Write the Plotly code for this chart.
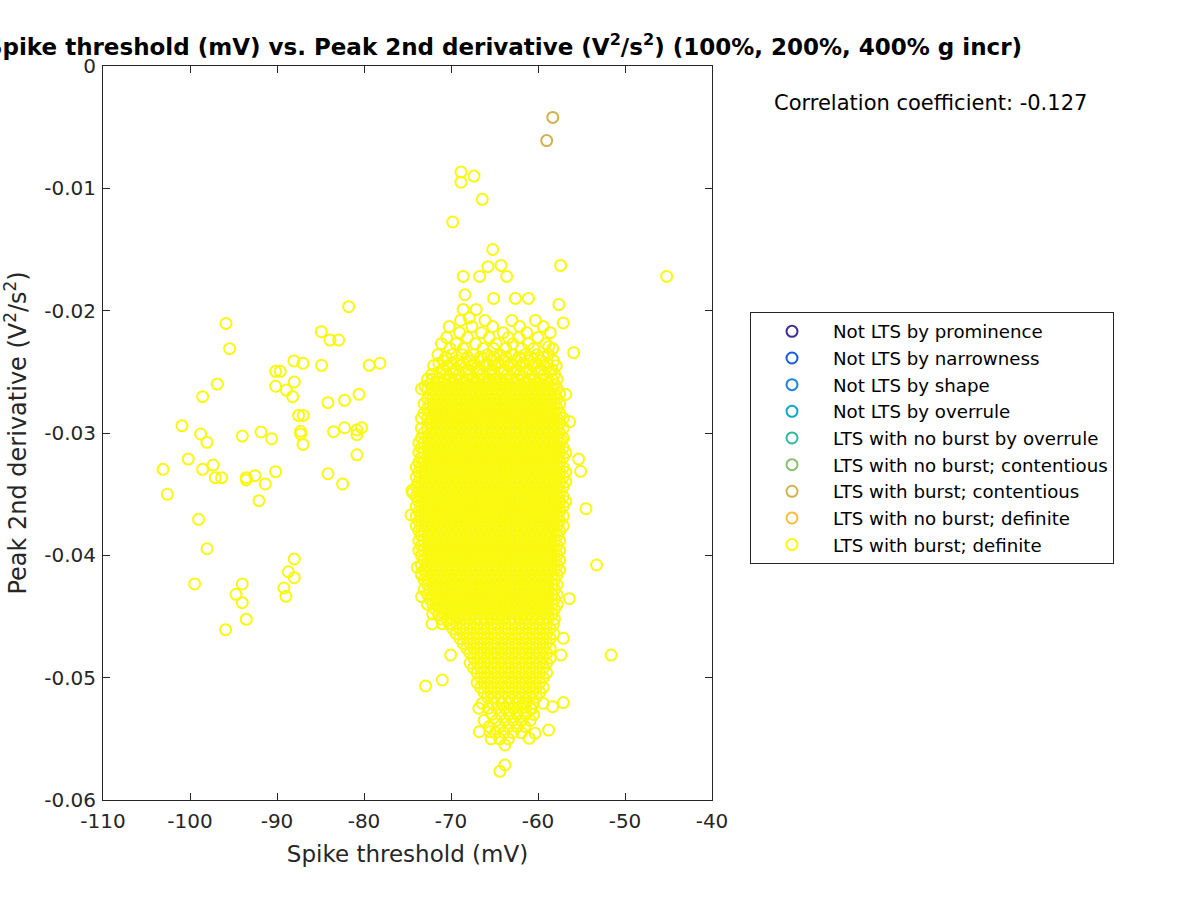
import plotly.graph_objects as go

# ---------------- data ----------------
categories = ["Not LTS by prominence", "Not LTS by narrowness", "Not LTS by shape",
              "Not LTS by overrule", "LTS with no burst by overrule",
              "LTS with no burst; contentious", "LTS with burst; contentious",
              "LTS with no burst; definite", "LTS with burst; definite"]
cat_colors = ["#3F2C9E", "#1259E0", "#1F83D9", "#12A8C8", "#30B69E",
              "#88BF72", "#D2B24F", "#FCBB38", "#F9F80E"]

x_ticks = [-110, -100, -90, -80, -70, -60, -50, -40]
x_tick_labels = ["-110", "-100", "-90", "-80", "-70", "-60", "-50", "-40"]
y_ticks = [-0.06, -0.05, -0.04, -0.03, -0.02, -0.01, 0]
y_tick_labels = ["-0.06", "-0.05", "-0.04", "-0.03", "-0.02", "-0.01", "0"]

corr_text = "Correlation coefficient: -0.127"

# LTS with burst; contentious
contentious_x = [-58.3, -59.0]
contentious_y = [-0.0042, -0.0061]

# LTS with burst; definite -- sparse left group
left_x = [-81.76, -95.86, -84.91, -83.91, -82.91, -95.44, -88.05, -87.01, -84.87, -79.4,
          -78.16, -90.16, -89.62, -96.86, -90.16, -88.01, -88.93, -88.2, -98.55, -80.57,
          -84.14, -82.23, -87.52, -86.98, -100.92, -98.78, -93.99, -91.84, -90.61, -87.29,
          -87.29, -87.01, -83.5, -82.23, -80.81, -80.28, -80.81, -80.81, -98.05, -100.2,
          -103.1, -98.55, -97.33, -97.1, -96.37, -93.53, -93.53, -92.53, -91.35, -90.16,
          -84.14, -82.46, -102.6, -92.07, -99.01, -98.05, -88.01, -88.7, -88.01, -99.46,
          -93.99, -89.2, -88.97, -94.71, -93.99, -93.53, -95.91]
left_y = [-0.01967, -0.02104, -0.02172, -0.0224, -0.0224, -0.02311, -0.02411, -0.0243, -0.02447, -0.02447,
          -0.0243, -0.02496, -0.02496, -0.026, -0.02618, -0.02583, -0.02649, -0.02703, -0.02703, -0.02684,
          -0.02752, -0.02733, -0.02856, -0.02856, -0.0294, -0.03008, -0.03025, -0.02992, -0.03047, -0.02986,
          -0.03008, -0.03093, -0.02989, -0.02957, -0.02976, -0.02957, -0.03014, -0.03178, -0.03076, -0.03213,
          -0.03297, -0.03297, -0.03262, -0.03365, -0.03365, -0.03365, -0.03384, -0.03349, -0.03417, -0.03316,
          -0.03333, -0.03417, -0.03501, -0.03553, -0.03706, -0.03946, -0.0403, -0.04134, -0.04183, -0.04234,
          -0.04234, -0.04267, -0.04335, -0.04319, -0.04387, -0.04523, -0.04608]

# upper tail of the main cluster
top_x = [-68.85, -68.85, -67.36, -66.4, -69.8, -65.2, -65.75, -64.25, -68.6, -66.7,
         -63.6, -57.4, -68.4, -65.1, -62.6, -61.1, -57.6, -57.1, -68.6, -67.1, -67.9, -45.2]
top_y = [-0.00867, -0.0095, -0.0090, -0.0109, -0.01275, -0.0150, -0.0164, -0.0163, -0.0172, -0.0172,
         -0.0172, -0.0163, -0.0187, -0.0190, -0.0190, -0.0190, -0.0195, -0.0210, -0.0199, -0.0199, -0.0206, -0.0172]

# right edge of the main cluster
right_x = [-55.9, -58.77, -56.83, -56.37, -57.28, -55.33, -55.1, -54.48, -53.27, -56.4,
           -51.6, -57.09, -57.36, -58.31, -57.56]
right_y = [-0.02343, -0.02294, -0.02684, -0.02908, -0.0306, -0.03213, -0.03313, -0.03619, -0.04079, -0.04354,
           -0.04815, -0.04678, -0.04815, -0.03774, -0.0357]

# lower tail / left edge of the main cluster
edge_x = [-64.37, -63.8, -63.8, -66.75, -65.52, -61.0, -60.34, -58.78, -60.73, -58.32,
          -57.09, -72.92, -71.0, -70.04, -72.18, -73.38, -73.87, -72.99, -74.4, -74.5,
          -74.6, -73.4, -71.65, -71.4, -70.0, -69.9]
edge_y = [-0.05766, -0.05714, -0.0555, -0.05442, -0.05442, -0.05496, -0.05455, -0.05428, -0.05256, -0.05237,
          -0.05204, -0.05068, -0.05019, -0.04815, -0.04561, -0.04338, -0.04098, -0.0262, -0.03488, -0.0347,
          -0.0367, -0.04147, -0.0436, -0.0449, -0.0456, -0.0447]

# main cluster, estimated row by row: (y, x values)
core_rows = [
    (-0.0208, [-68.9, -66.1, -63.0, -60.3]),
    (-0.0213, [-70.2, -67.6, -65.2, -62.1, -59.4]),
    (-0.0218, [-69.0, -66.5, -64.0, -61.3, -58.6]),
    (-0.0222, [-70.5, -68.1, -65.6, -63.4, -62.2, -60.0]),
    (-0.0227, [-71.1, -69.4, -67.2, -64.8, -62.9, -61.1, -59.1]),
    (-0.0231, [-70.1, -68.6, -66.3, -65.1, -63.7, -61.9, -60.5, -58.3]),
    (-0.0236, [-71.5, -69.9, -68.7, -67.4, -65.8, -64.4, -63.0, -61.5, -60.1, -58.8]),
    (-0.0238, [-70.6, -68.1, -66.6, -65.1, -63.7, -62.2, -60.8, -59.4]),
    (-0.0241, [-70.8, -69.3, -68.0, -66.7, -65.2, -63.8, -62.4, -61.0, -59.6, -58.2]),
    (-0.0243, [-71.4, -69.9, -68.6, -67.3, -65.9, -64.5, -63.1, -61.7, -60.3, -58.9]),
    (-0.0245, [-72.0, -70.5, -69.0, -67.6, -66.1, -64.9, -63.4, -62.0, -60.6, -59.3, -57.9]),
    (-0.0248, [-70.9, -69.4, -68.0, -66.7, -65.3, -63.9, -62.5, -61.1, -59.7, -58.4]),
    (-0.0250, [-71.3, -69.8, -68.4, -67.1, -65.6, -64.2, -62.8, -61.4, -60.0, -58.7]),
    (-0.0252, [-72.2, -70.6, -69.1, -67.8, -66.4, -65.0, -63.5, -62.1, -60.7, -59.3, -58.1]),
    (-0.0256, [-72.7, -72.1, -71.4, -70.8, -70.1, -69.5, -68.8, -68.2, -67.5, -66.9, -66.2, -65.6, -64.9, -64.3, -63.6, -63.0, -62.3, -61.7, -61.0, -60.4, -59.7, -59.1, -58.4, -57.8]),
    (-0.0260, [-72.4, -71.8, -71.1, -70.5, -69.8, -69.2, -68.5, -67.9, -67.2, -66.6, -65.9, -65.3, -64.6, -64.0, -63.3, -62.7, -62.0, -61.4, -60.7, -60.1, -59.4, -58.8, -58.1]),
    (-0.0264, [-73.4, -72.7, -72.1, -71.4, -70.8, -70.1, -69.5, -68.8, -68.2, -67.5, -66.9, -66.2, -65.6, -64.9, -64.3, -63.6, -63.0, -62.3, -61.7, -61.0, -60.4, -59.7, -59.1, -58.4, -57.8]),
    (-0.0268, [-72.4, -71.8, -71.1, -70.5, -69.8, -69.2, -68.5, -67.9, -67.2, -66.6, -65.9, -65.3, -64.6, -64.0, -63.3, -62.7, -62.0, -61.4, -60.7, -60.1, -59.4, -58.8, -58.1, -57.5]),
    (-0.0272, [-72.7, -72.1, -71.4, -70.8, -70.1, -69.5, -68.8, -68.2, -67.5, -66.9, -66.2, -65.6, -64.9, -64.3, -63.6, -63.0, -62.3, -61.7, -61.0, -60.4, -59.7, -59.1, -58.4, -57.8]),
    (-0.0276, [-73.1, -72.4, -71.8, -71.1, -70.5, -69.8, -69.2, -68.5, -67.9, -67.2, -66.6, -65.9, -65.3, -64.6, -64.0, -63.3, -62.7, -62.0, -61.4, -60.7, -60.1, -59.4, -58.8, -58.1, -57.5]),
    (-0.0280, [-72.7, -72.1, -71.4, -70.8, -70.1, -69.5, -68.8, -68.2, -67.5, -66.9, -66.2, -65.6, -64.9, -64.3, -63.6, -63.0, -62.3, -61.7, -61.0, -60.4, -59.7, -59.1, -58.4, -57.8]),
    (-0.0284, [-73.1, -72.4, -71.8, -71.1, -70.5, -69.8, -69.2, -68.5, -67.9, -67.2, -66.6, -65.9, -65.3, -64.6, -64.0, -63.3, -62.7, -62.0, -61.4, -60.7, -60.1, -59.4, -58.8, -58.1, -57.5]),
    (-0.0288, [-73.4, -72.7, -72.1, -71.4, -70.8, -70.1, -69.5, -68.8, -68.2, -67.5, -66.9, -66.2, -65.6, -64.9, -64.3, -63.6, -63.0, -62.3, -61.7, -61.0, -60.4, -59.7, -59.1, -58.4, -57.8, -57.1]),
    (-0.0292, [-72.4, -71.8, -71.1, -70.5, -69.8, -69.2, -68.5, -67.9, -67.2, -66.6, -65.9, -65.3, -64.6, -64.0, -63.3, -62.7, -62.0, -61.4, -60.7, -60.1, -59.4, -58.8, -58.1, -57.5]),
    (-0.0296, [-73.4, -72.7, -72.1, -71.4, -70.8, -70.1, -69.5, -68.8, -68.2, -67.5, -66.9, -66.2, -65.6, -64.9, -64.3, -63.6, -63.0, -62.3, -61.7, -61.0, -60.4, -59.7, -59.1, -58.4, -57.8, -57.1]),
    (-0.0300, [-73.1, -72.4, -71.8, -71.1, -70.5, -69.8, -69.2, -68.5, -67.9, -67.2, -66.6, -65.9, -65.3, -64.6, -64.0, -63.3, -62.7, -62.0, -61.4, -60.7, -60.1, -59.4, -58.8, -58.1, -57.5]),
    (-0.0304, [-73.4, -72.7, -72.1, -71.4, -70.8, -70.1, -69.5, -68.8, -68.2, -67.5, -66.9, -66.2, -65.6, -64.9, -64.3, -63.6, -63.0, -62.3, -61.7, -61.0, -60.4, -59.7, -59.1, -58.4, -57.8, -57.1]),
    (-0.0308, [-73.7, -73.1, -72.4, -71.8, -71.1, -70.5, -69.8, -69.2, -68.5, -67.9, -67.2, -66.6, -65.9, -65.3, -64.6, -64.0, -63.3, -62.7, -62.0, -61.4, -60.7, -60.1, -59.4, -58.8, -58.1, -57.5]),
    (-0.0312, [-73.4, -72.7, -72.1, -71.4, -70.8, -70.1, -69.5, -68.8, -68.2, -67.5, -66.9, -66.2, -65.6, -64.9, -64.3, -63.6, -63.0, -62.3, -61.7, -61.0, -60.4, -59.7, -59.1, -58.4, -57.8, -57.1]),
    (-0.0316, [-73.7, -73.1, -72.4, -71.8, -71.1, -70.5, -69.8, -69.2, -68.5, -67.9, -67.2, -66.6, -65.9, -65.3, -64.6, -64.0, -63.3, -62.7, -62.0, -61.4, -60.7, -60.1, -59.4, -58.8, -58.1, -57.5, -56.8]),
    (-0.0320, [-73.4, -72.7, -72.1, -71.4, -70.8, -70.1, -69.5, -68.8, -68.2, -67.5, -66.9, -66.2, -65.6, -64.9, -64.3, -63.6, -63.0, -62.3, -61.7, -61.0, -60.4, -59.7, -59.1, -58.4, -57.8, -57.1]),
    (-0.0324, [-73.7, -73.1, -72.4, -71.8, -71.1, -70.5, -69.8, -69.2, -68.5, -67.9, -67.2, -66.6, -65.9, -65.3, -64.6, -64.0, -63.3, -62.7, -62.0, -61.4, -60.7, -60.1, -59.4, -58.8, -58.1, -57.5]),
    (-0.0328, [-74.0, -73.4, -72.7, -72.1, -71.4, -70.8, -70.1, -69.5, -68.8, -68.2, -67.5, -66.9, -66.2, -65.6, -64.9, -64.3, -63.6, -63.0, -62.3, -61.7, -61.0, -60.4, -59.7, -59.1, -58.4, -57.8, -57.1]),
    (-0.0332, [-73.7, -73.1, -72.4, -71.8, -71.1, -70.5, -69.8, -69.2, -68.5, -67.9, -67.2, -66.6, -65.9, -65.3, -64.6, -64.0, -63.3, -62.7, -62.0, -61.4, -60.7, -60.1, -59.4, -58.8, -58.1, -57.5, -56.8]),
    (-0.0336, [-74.0, -73.4, -72.7, -72.1, -71.4, -70.8, -70.1, -69.5, -68.8, -68.2, -67.5, -66.9, -66.2, -65.6, -64.9, -64.3, -63.6, -63.0, -62.3, -61.7, -61.0, -60.4, -59.7, -59.1, -58.4, -57.8, -57.1]),
    (-0.0340, [-73.7, -73.1, -72.4, -71.8, -71.1, -70.5, -69.8, -69.2, -68.5, -67.9, -67.2, -66.6, -65.9, -65.3, -64.6, -64.0, -63.3, -62.7, -62.0, -61.4, -60.7, -60.1, -59.4, -58.8, -58.1, -57.5, -56.8]),
    (-0.0344, [-74.0, -73.4, -72.7, -72.1, -71.4, -70.8, -70.1, -69.5, -68.8, -68.2, -67.5, -66.9, -66.2, -65.6, -64.9, -64.3, -63.6, -63.0, -62.3, -61.7, -61.0, -60.4, -59.7, -59.1, -58.4, -57.8, -57.1]),
    (-0.0348, [-73.7, -73.1, -72.4, -71.8, -71.1, -70.5, -69.8, -69.2, -68.5, -67.9, -67.2, -66.6, -65.9, -65.3, -64.6, -64.0, -63.3, -62.7, -62.0, -61.4, -60.7, -60.1, -59.4, -58.8, -58.1, -57.5]),
    (-0.0352, [-74.0, -73.4, -72.7, -72.1, -71.4, -70.8, -70.1, -69.5, -68.8, -68.2, -67.5, -66.9, -66.2, -65.6, -64.9, -64.3, -63.6, -63.0, -62.3, -61.7, -61.0, -60.4, -59.7, -59.1, -58.4, -57.8, -57.1]),
    (-0.0356, [-73.7, -73.1, -72.4, -71.8, -71.1, -70.5, -69.8, -69.2, -68.5, -67.9, -67.2, -66.6, -65.9, -65.3, -64.6, -64.0, -63.3, -62.7, -62.0, -61.4, -60.7, -60.1, -59.4, -58.8, -58.1, -57.5, -56.8]),
    (-0.0360, [-74.0, -73.4, -72.7, -72.1, -71.4, -70.8, -70.1, -69.5, -68.8, -68.2, -67.5, -66.9, -66.2, -65.6, -64.9, -64.3, -63.6, -63.0, -62.3, -61.7, -61.0, -60.4, -59.7, -59.1, -58.4, -57.8, -57.1]),
    (-0.0364, [-73.7, -73.1, -72.4, -71.8, -71.1, -70.5, -69.8, -69.2, -68.5, -67.9, -67.2, -66.6, -65.9, -65.3, -64.6, -64.0, -63.3, -62.7, -62.0, -61.4, -60.7, -60.1, -59.4, -58.8, -58.1, -57.5]),
    (-0.0368, [-74.0, -73.4, -72.7, -72.1, -71.4, -70.8, -70.1, -69.5, -68.8, -68.2, -67.5, -66.9, -66.2, -65.6, -64.9, -64.3, -63.6, -63.0, -62.3, -61.7, -61.0, -60.4, -59.7, -59.1, -58.4, -57.8, -57.1]),
    (-0.0372, [-73.7, -73.1, -72.4, -71.8, -71.1, -70.5, -69.8, -69.2, -68.5, -67.9, -67.2, -66.6, -65.9, -65.3, -64.6, -64.0, -63.3, -62.7, -62.0, -61.4, -60.7, -60.1, -59.4, -58.8, -58.1, -57.5]),
    (-0.0376, [-74.0, -73.4, -72.7, -72.1, -71.4, -70.8, -70.1, -69.5, -68.8, -68.2, -67.5, -66.9, -66.2, -65.6, -64.9, -64.3, -63.6, -63.0, -62.3, -61.7, -61.0, -60.4, -59.7, -59.1, -58.4, -57.8, -57.1]),
    (-0.0380, [-73.7, -73.1, -72.4, -71.8, -71.1, -70.5, -69.8, -69.2, -68.5, -67.9, -67.2, -66.6, -65.9, -65.3, -64.6, -64.0, -63.3, -62.7, -62.0, -61.4, -60.7, -60.1, -59.4, -58.8, -58.1, -57.5]),
    (-0.0384, [-73.4, -72.7, -72.1, -71.4, -70.8, -70.1, -69.5, -68.8, -68.2, -67.5, -66.9, -66.2, -65.6, -64.9, -64.3, -63.6, -63.0, -62.3, -61.7, -61.0, -60.4, -59.7, -59.1, -58.4, -57.8]),
    (-0.0388, [-73.7, -73.1, -72.4, -71.8, -71.1, -70.5, -69.8, -69.2, -68.5, -67.9, -67.2, -66.6, -65.9, -65.3, -64.6, -64.0, -63.3, -62.7, -62.0, -61.4, -60.7, -60.1, -59.4, -58.8, -58.1, -57.5]),
    (-0.0392, [-73.4, -72.7, -72.1, -71.4, -70.8, -70.1, -69.5, -68.8, -68.2, -67.5, -66.9, -66.2, -65.6, -64.9, -64.3, -63.6, -63.0, -62.3, -61.7, -61.0, -60.4, -59.7, -59.1, -58.4, -57.8]),
    (-0.0396, [-73.7, -73.1, -72.4, -71.8, -71.1, -70.5, -69.8, -69.2, -68.5, -67.9, -67.2, -66.6, -65.9, -65.3, -64.6, -64.0, -63.3, -62.7, -62.0, -61.4, -60.7, -60.1, -59.4, -58.8, -58.1, -57.5]),
    (-0.0400, [-73.4, -72.7, -72.1, -71.4, -70.8, -70.1, -69.5, -68.8, -68.2, -67.5, -66.9, -66.2, -65.6, -64.9, -64.3, -63.6, -63.0, -62.3, -61.7, -61.0, -60.4, -59.7, -59.1, -58.4, -57.8]),
    (-0.0404, [-73.1, -72.4, -71.8, -71.1, -70.5, -69.8, -69.2, -68.5, -67.9, -67.2, -66.6, -65.9, -65.3, -64.6, -64.0, -63.3, -62.7, -62.0, -61.4, -60.7, -60.1, -59.4, -58.8, -58.1, -57.5]),
    (-0.0408, [-73.4, -72.7, -72.1, -71.4, -70.8, -70.1, -69.5, -68.8, -68.2, -67.5, -66.9, -66.2, -65.6, -64.9, -64.3, -63.6, -63.0, -62.3, -61.7, -61.0, -60.4, -59.7, -59.1, -58.4, -57.8]),
    (-0.0412, [-73.1, -72.4, -71.8, -71.1, -70.5, -69.8, -69.2, -68.5, -67.9, -67.2, -66.6, -65.9, -65.3, -64.6, -64.0, -63.3, -62.7, -62.0, -61.4, -60.7, -60.1, -59.4, -58.8, -58.1, -57.5]),
    (-0.0416, [-73.4, -72.7, -72.1, -71.4, -70.8, -70.1, -69.5, -68.8, -68.2, -67.5, -66.9, -66.2, -65.6, -64.9, -64.3, -63.6, -63.0, -62.3, -61.7, -61.0, -60.4, -59.7, -59.1, -58.4, -57.8]),
    (-0.0420, [-73.1, -72.4, -71.8, -71.1, -70.5, -69.8, -69.2, -68.5, -67.9, -67.2, -66.6, -65.9, -65.3, -64.6, -64.0, -63.3, -62.7, -62.0, -61.4, -60.7, -60.1, -59.4, -58.8, -58.1]),
    (-0.0424, [-72.7, -72.1, -71.4, -70.8, -70.1, -69.5, -68.8, -68.2, -67.5, -66.9, -66.2, -65.6, -64.9, -64.3, -63.6, -63.0, -62.3, -61.7, -61.0, -60.4, -59.7, -59.1, -58.4, -57.8]),
    (-0.0428, [-73.1, -72.4, -71.8, -71.1, -70.5, -69.8, -69.2, -68.5, -67.9, -67.2, -66.6, -65.9, -65.3, -64.6, -64.0, -63.3, -62.7, -62.0, -61.4, -60.7, -60.1, -59.4, -58.8, -58.1]),
    (-0.0432, [-72.7, -72.1, -71.4, -70.8, -70.1, -69.5, -68.8, -68.2, -67.5, -66.9, -66.2, -65.6, -64.9, -64.3, -63.6, -63.0, -62.3, -61.7, -61.0, -60.4, -59.7, -59.1, -58.4, -57.8]),
    (-0.0436, [-72.4, -71.8, -71.1, -70.5, -69.8, -69.2, -68.5, -67.9, -67.2, -66.6, -65.9, -65.3, -64.6, -64.0, -63.3, -62.7, -62.0, -61.4, -60.7, -60.1, -59.4, -58.8, -58.1]),
    (-0.0440, [-72.7, -72.1, -71.4, -70.8, -70.1, -69.5, -68.8, -68.2, -67.5, -66.9, -66.2, -65.6, -64.9, -64.3, -63.6, -63.0, -62.3, -61.7, -61.0, -60.4, -59.7, -59.1, -58.4, -57.8]),
    (-0.0444, [-71.8, -71.1, -70.5, -69.8, -69.2, -68.5, -67.9, -67.2, -66.6, -65.9, -65.3, -64.6, -64.0, -63.3, -62.7, -62.0, -61.4, -60.7, -60.1, -59.4, -58.8, -58.1]),
    (-0.0448, [-72.1, -71.4, -70.8, -70.1, -69.5, -68.8, -68.2, -67.5, -66.9, -66.2, -65.6, -64.9, -64.3, -63.6, -63.0, -62.3, -61.7, -61.0, -60.4, -59.7, -59.1, -58.4]),
    (-0.0452, [-71.1, -70.5, -69.8, -69.2, -68.5, -67.9, -67.2, -66.6, -65.9, -65.3, -64.6, -64.0, -63.3, -62.7, -62.0, -61.4, -60.7, -60.1, -59.4, -58.8, -58.1]),
    (-0.0456, [-71.0, -70.2, -69.4, -68.6, -67.8, -67.0, -66.2, -65.4, -64.6, -63.8, -63.0, -62.2, -61.4, -60.6, -59.8, -59.0, -58.2]),
    (-0.0460, [-69.8, -69.0, -68.2, -67.4, -66.6, -65.8, -65.0, -64.2, -63.4, -62.6, -61.8, -61.0, -60.2, -59.4, -58.6]),
    (-0.0464, [-69.4, -68.6, -67.8, -67.0, -66.2, -65.4, -64.6, -63.8, -63.0, -62.2, -61.4, -60.6, -59.8, -59.0, -58.2]),
    (-0.0468, [-69.0, -68.2, -67.4, -66.6, -65.8, -65.0, -64.2, -63.4, -62.6, -61.8, -61.0, -60.2, -59.4, -58.6]),
    (-0.0472, [-68.6, -67.8, -67.0, -66.2, -65.4, -64.6, -63.8, -63.0, -62.2, -61.4, -60.6, -59.8, -59.0]),
    (-0.0476, [-68.2, -67.4, -66.6, -65.8, -65.0, -64.2, -63.4, -62.6, -61.8, -61.0, -60.2, -59.4, -58.6]),
    (-0.0480, [-67.8, -67.0, -66.2, -65.4, -64.6, -63.8, -63.0, -62.2, -61.4, -60.6, -59.8, -59.0]),
    (-0.0484, [-67.4, -66.6, -65.8, -65.0, -64.2, -63.4, -62.6, -61.8, -61.0, -60.2, -59.4, -58.6]),
    (-0.0488, [-67.8, -67.0, -66.2, -65.4, -64.6, -63.8, -63.0, -62.2, -61.4, -60.6, -59.8, -59.0]),
    (-0.0492, [-67.4, -66.6, -65.8, -65.0, -64.2, -63.4, -62.6, -61.8, -61.0, -60.2, -59.4]),
    (-0.0496, [-67.0, -66.2, -65.4, -64.6, -63.8, -63.0, -62.2, -61.4, -60.6, -59.8, -59.0]),
    (-0.0500, [-66.6, -65.8, -65.0, -64.2, -63.4, -62.6, -61.8, -61.0, -60.2, -59.4]),
    (-0.0504, [-67.0, -66.2, -65.4, -64.6, -63.8, -63.0, -62.2, -61.4, -60.6, -59.8]),
    (-0.0508, [-66.6, -65.8, -65.0, -64.2, -63.4, -62.6, -61.8, -61.0, -60.2, -59.4]),
    (-0.0512, [-66.2, -65.4, -64.6, -63.8, -63.0, -62.2, -61.4, -60.6, -59.8]),
    (-0.0516, [-65.8, -65.0, -64.2, -63.4, -62.6, -61.8, -61.0, -60.2]),
    (-0.0521, [-66.4, -65.2, -64.2, -63.3, -62.3, -61.4, -60.5, -59.4]),
    (-0.0525, [-66.8, -65.7, -64.7, -63.8, -62.8, -61.9, -60.9]),
    (-0.0530, [-65.3, -64.3, -63.3, -62.4, -61.4, -60.5]),
    (-0.0535, [-66.2, -64.8, -63.8, -62.9, -61.9, -60.9]),
    (-0.0540, [-65.6, -64.4, -63.4, -62.4, -61.5]),
    (-0.0545, [-64.9, -63.9, -62.9, -61.9]),
    (-0.0550, [-65.4, -64.4, -63.4]),
]

# ---------------- assemble ----------------
core_x = [x for (yv, xs) in core_rows for x in xs]
core_y = [yv for (yv, xs) in core_rows for x in xs]
definite_x = left_x + top_x + right_x + edge_x + core_x
definite_y = left_y + top_y + right_y + edge_y + core_y

series = {cat: ([None], [None]) for cat in categories}
series["LTS with burst; contentious"] = (contentious_x, contentious_y)
series["LTS with burst; definite"] = (definite_x, definite_y)

FONT = "DejaVu Sans"
AX = "#262626"

fig = go.Figure()
for cat, col in zip(categories, cat_colors):
    xs, ys = series[cat]
    fig.add_trace(go.Scatter(
        x=xs, y=ys, mode="markers", name=cat,
        marker=dict(symbol="circle-open", size=11, color=col, line=dict(width=2, color=col)),
    ))

# plotting area: left 103 px, width 609 px; top 66 px, height 734 px
fig.update_layout(
    width=1200, height=900,
    margin=dict(l=103, r=488, t=66, b=100),
    paper_bgcolor="white", plot_bgcolor="white",
    font=dict(family=FONT, color=AX),
    title=dict(
        text="Spike threshold (mV) vs. Peak 2nd derivative (V<sup>2</sup>/s<sup>2</sup>) (100%, 200%, 400% g incr)",
        font=dict(family=FONT, size=23, color="black", weight="bold"),
        xref="paper", x=(504 - 103) / 609, xanchor="center",
        yref="container", y=1 - 47 / 900, yanchor="middle",
    ),
    showlegend=True,
    legend=dict(
        x=(750 - 103) / 609, y=(800 - 312) / 734, xanchor="left", yanchor="top",
        xref="paper", yref="paper",
        bordercolor=AX, borderwidth=1, bgcolor="white",
        font=dict(family=FONT, size=18.2, color="black"),
        itemwidth=72,
    ),
    annotations=[dict(
        text=corr_text, xref="paper", yref="paper",
        x=(772 - 103) / 609, y=(800 - 103) / 734, xanchor="left", yanchor="middle",
        showarrow=False, font=dict(family=FONT, size=21, color="black"),
    )],
)
fig.update_xaxes(
    range=[-110, -40], tickvals=x_ticks, ticktext=x_tick_labels,
    ticks="inside", ticklen=7, tickcolor=AX, showline=True, linecolor=AX, linewidth=1,
    mirror="ticks", showgrid=False, zeroline=False, ticklabelstandoff=3,
    tickfont=dict(family=FONT, size=20, color=AX),
    title=dict(text="Spike threshold (mV)", font=dict(family=FONT, size=23, color=AX), standoff=13),
)
fig.update_yaxes(
    range=[-0.06, 0], tickvals=y_ticks, ticktext=y_tick_labels,
    ticks="inside", ticklen=7, tickcolor=AX, showline=True, linecolor=AX, linewidth=1,
    mirror="ticks", showgrid=False, zeroline=False, ticklabelstandoff=2,
    tickfont=dict(family=FONT, size=20, color=AX),
    title=dict(text="Peak 2nd derivative (V<sup>2</sup>/s<sup>2</sup>)", font=dict(family=FONT, size=24, color=AX), standoff=10),
)

fig.write_html("out.html", config={"displayModeBar": False},
               post_script="document.body.style.margin='0';")
